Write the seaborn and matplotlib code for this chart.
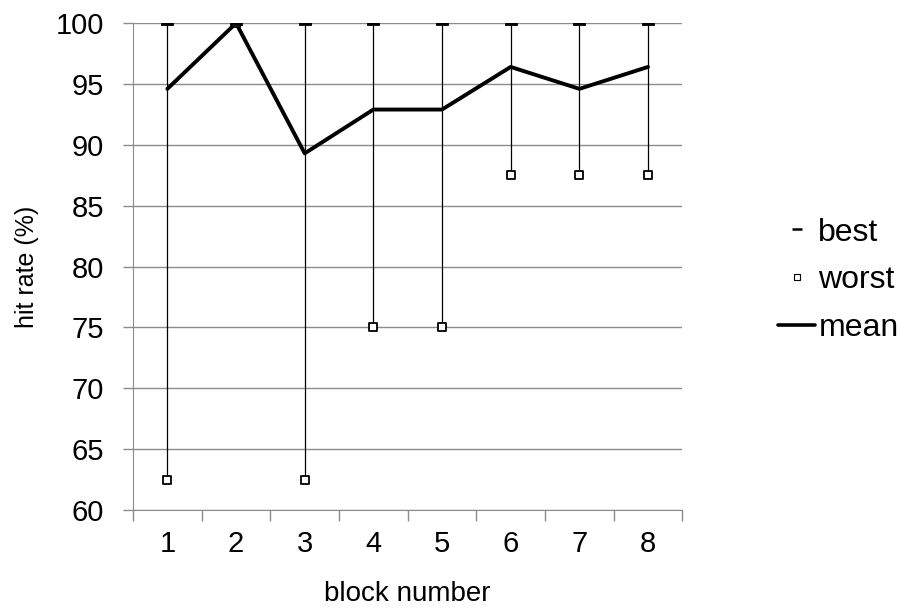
import numpy as np
import pandas as pd
import matplotlib
matplotlib.use('Agg')
import matplotlib.pyplot as plt
import seaborn as sns
from matplotlib.lines import Line2D

blocks = [1, 2, 3, 4, 5, 6, 7, 8]
best = [100, 100, 100, 100, 100, 100, 100, 100]
worst = [62.5, 100, 62.5, 75, 75, 87.5, 87.5, 87.5]
mean = [94.6, 100, 89.3, 92.9, 92.9, 96.4, 94.6, 96.4]

df = pd.DataFrame({'block': blocks, 'best': best, 'worst': worst, 'mean': mean})

sns.set_style('white')
plt.rcParams['font.family'] = ['Liberation Sans', 'DejaVu Sans']
plt.rcParams['text.color'] = 'black'
plt.rcParams['axes.labelcolor'] = 'black'
plt.rcParams['xtick.color'] = 'black'
plt.rcParams['ytick.color'] = 'black'

fig = plt.figure(figsize=(8.99, 6.08), dpi=100)
ax = fig.add_axes([0.148, 0.161, 0.611, 0.801])

# wide flat dash marker for "best"
dash = [(-1, -0.4), (1, -0.4), (1, 0.4), (-1, 0.4), (-1, -0.4)]

# high-low lines
ax.vlines(df['block'], df['worst'], df['best'], color='black', lw=0.9, zorder=2)
sns.lineplot(data=df, x='block', y='mean', color='black', lw=2.8, ax=ax, zorder=4)
sns.scatterplot(data=df, x='block', y='worst', marker='s', s=30, facecolor='white',
                edgecolor='black', linewidth=1.3, ax=ax, zorder=5)
sns.scatterplot(data=df, x='block', y='best', marker=dash, s=65, color='black',
                edgecolor='black', linewidth=0.6, ax=ax, zorder=5)

ax.set_xlim(0.5, 8.5)
ax.set_ylim(60, 100)
ax.set_yticks(np.arange(60, 101, 5))
ax.set_xticks(blocks)
ax.set_xticks(np.arange(0.5, 8.6, 1), minor=True)
ax.yaxis.grid(True, color='#8c8c8c', lw=1)
ax.set_axisbelow(True)
for s in ['top', 'right']:
    ax.spines[s].set_visible(False)
ax.spines['left'].set_color('#8c8c8c')
ax.spines['bottom'].set_color('#8c8c8c')
ax.tick_params(axis='x', which='major', length=0, labelsize=21, pad=14)
ax.tick_params(axis='x', which='minor', length=8, color='#8c8c8c', width=1, bottom=True)
ax.tick_params(axis='y', length=7, color='#8c8c8c', width=1, labelsize=21, left=True, pad=14)
ax.set_xlabel('block number', fontsize=20, labelpad=17)
ax.set_ylabel('hit rate (%)', fontsize=18, labelpad=12)

handles = [
    Line2D([], [], color='black', marker='_', ls='none', markersize=7, markeredgewidth=1.8),
    Line2D([], [], color='black', marker='s', ls='none', markersize=5,
           markerfacecolor='white', markeredgewidth=0.8),
    Line2D([], [], color='black', lw=2.6),
]
ax.legend(handles, ['best', 'worst', 'mean'], loc='center left', bbox_to_anchor=(1.175, 0.472),
          frameon=False, fontsize=23, handlelength=1.15, handletextpad=0.1,
          labelspacing=0.55, borderpad=0, borderaxespad=0)

fig.savefig('out.png', dpi=100)
